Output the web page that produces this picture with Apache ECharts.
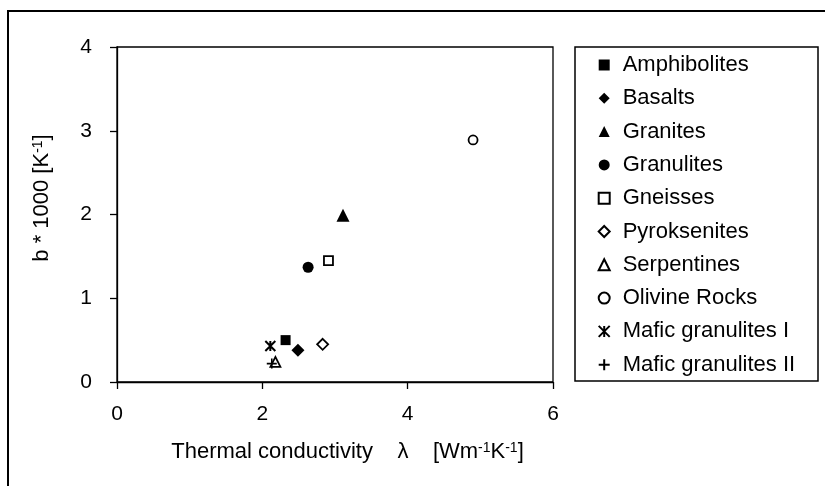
<!DOCTYPE html>
<html>
<head>
<meta charset="utf-8">
<script src="https://cdn.jsdelivr.net/npm/echarts@6/dist/echarts.min.js"></script>
<style>
  html, body { margin: 0; padding: 0; background: #fff; }
  #chart { width: 825px; height: 486px; }
</style>
</head>
<body>
<div id="chart"></div>
<script>
// rock types and their (lambda, b*1000) pairs
const rockNames = ['Amphibolites', 'Basalts', 'Granites', 'Granulites', 'Gneisses',
  'Pyroksenites', 'Serpentines', 'Olivine Rocks', 'Mafic granulites I', 'Mafic granulites II'];
const conductivity = [2.32, 2.49, 3.11, 2.63, 2.91, 2.83, 2.18, 4.90, 2.11, 2.13];
const bValues = [0.50, 0.38, 1.99, 1.37, 1.45, 0.45, 0.24, 2.89, 0.43, 0.22];
const xTicks = [0, 2, 4, 6];
const yTicks = [0, 1, 2, 3, 4];

// marker look per series (filled / open / line symbols)
const ASTER = 'path://M0,0L10,10M10,0L0,10M5,0L5,10';
const PLUS = 'path://M5,0L5,10M0,5L10,5';
const markers = [
  { symbol: 'rect', size: 10, fill: '#000' },
  { symbol: 'diamond', size: 13, fill: '#000' },
  { symbol: 'triangle', size: 13, fill: '#000' },
  { symbol: 'circle', size: 11, fill: '#000' },
  { symbol: 'rect', size: 9, fill: '#fff', border: 1.8 },
  { symbol: 'diamond', size: 11, fill: '#fff', border: 1.8 },
  { symbol: 'triangle', size: 10, fill: '#fff', border: 1.8 },
  { symbol: 'circle', size: 9, fill: '#fff', border: 1.8 },
  { symbol: ASTER, size: 10, fill: 'none', border: 2 },
  { symbol: PLUS, size: 10, fill: 'none', border: 1.6 }
];

const font = 'Liberation Sans, Arial, sans-serif';

let myChart = echarts.init(document.getElementById('chart'), null, { renderer: 'canvas' });

let series = rockNames.map(function (name, i) {
  let m = markers[i];
  return {
    name: name,
    type: 'scatter',
    symbol: m.symbol,
    symbolSize: m.size,
    itemStyle: {
      color: m.fill,
      borderColor: '#000',
      borderWidth: m.border || 0,
      opacity: 1
    },
    data: [[conductivity[i], bValues[i]]]
  };
});

myChart.setOption({
  animation: false,
  backgroundColor: '#fff',
  textStyle: { fontFamily: font, color: '#000' },
  graphic: [
    // outer frame (cut off on the right and bottom)
    { type: 'rect', shape: { x: 8, y: 11, width: 1000, height: 1000 },
      style: { fill: 'none', stroke: '#000', lineWidth: 2 } },
    // legend box
    { type: 'rect', shape: { x: 575, y: 47, width: 243, height: 334 },
      style: { fill: '#fff', stroke: '#000', lineWidth: 1.5 }, z: 0 }
  ],
  grid: {
    left: 117, right: 272, top: 47, bottom: 104,
    show: true, borderColor: '#000', borderWidth: 1.3, backgroundColor: 'transparent'
  },
  legend: {
    orient: 'vertical',
    left: 596.2, top: 54,
    itemWidth: 11, itemHeight: 11, itemGap: 11.3,
    padding: 0,
    data: rockNames,
    textStyle: { fontFamily: font, fontSize: 22, color: '#000', lineHeight: 22, padding: [0, 0, 0, 8] },
    z: 5
  },
  xAxis: {
    type: 'value', min: xTicks[0], max: xTicks[xTicks.length - 1], interval: 2,
    name: '{t|Thermal conductivity    λ    [Wm}{s|-1}{t|K}{s|-1}{t|]}',
    nameLocation: 'middle', nameGap: 59,
    nameTextStyle: {
      padding: [0, 0, 0, 25],
      rich: {
        t: { fontFamily: font, fontSize: 22, color: '#000' },
        s: { fontFamily: font, fontSize: 14, color: '#000', verticalAlign: 'top', padding: [0, 0, 8, 0] }
      }
    },
    axisLine: { lineStyle: { color: '#000', width: 1.3 } },
    axisTick: { length: 7, lineStyle: { color: '#000', width: 1.3 } },
    axisLabel: { margin: 22, fontSize: 21, color: '#000', fontFamily: font },
    splitLine: { show: false }
  },
  yAxis: {
    type: 'value', min: yTicks[0], max: yTicks[yTicks.length - 1], interval: 1,
    name: '{t|b * 1000 [K}{s|-1}{t|]}',
    nameLocation: 'middle', nameGap: 64, nameRotate: 90,
    nameTextStyle: {
      padding: [0, 0, 0, 33],
      rich: {
        t: { fontFamily: font, fontSize: 22, color: '#000' },
        s: { fontFamily: font, fontSize: 14, color: '#000', verticalAlign: 'top', padding: [0, 0, 8, 0] }
      }
    },
    axisLine: { show: true, lineStyle: { color: '#000', width: 1.3 } },
    axisTick: { show: true, length: 7, lineStyle: { color: '#000', width: 1.3 } },
    axisLabel: { margin: 25, fontSize: 21, color: '#000', fontFamily: font },
    splitLine: { show: false }
  },
  series: series
});

window.onresize = function () {
  myChart.resize();
};
</script>
</body>
</html>
